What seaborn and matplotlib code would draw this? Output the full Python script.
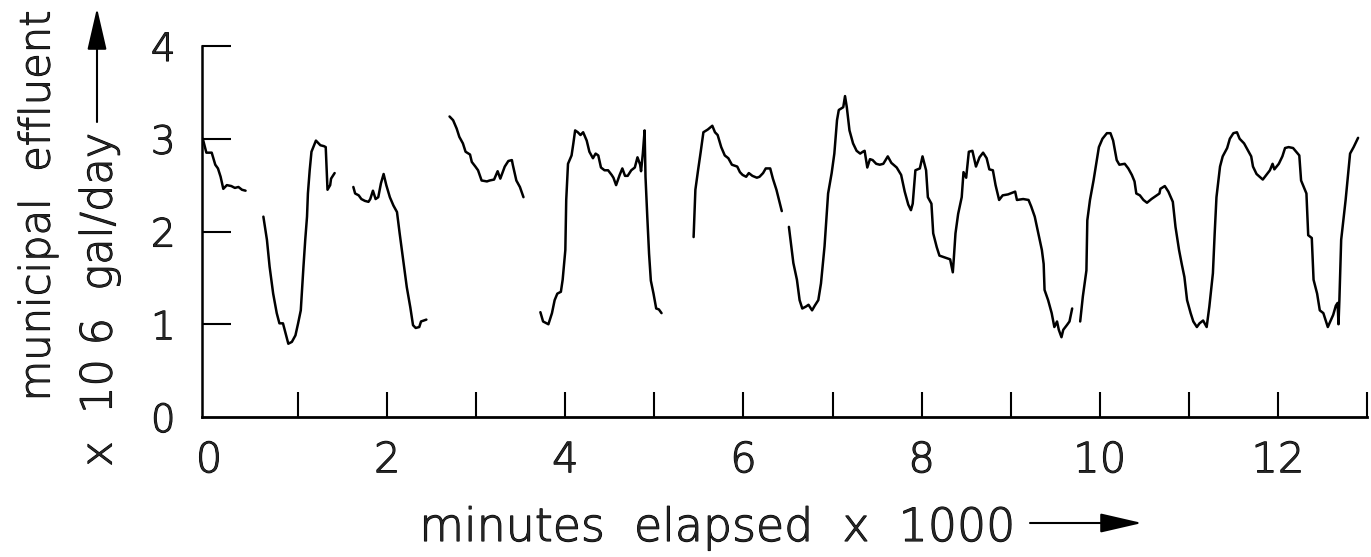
import numpy as np
import pandas as pd
import matplotlib
matplotlib.use("Agg")
import matplotlib.pyplot as plt
import matplotlib.patheffects as pe
from matplotlib.patches import FancyArrowPatch
import seaborn as sns

# ---- data (minutes elapsed x 1000, municipal effluent x 10^6 gal/day) ----
seg1_x = [-0.07, -0.03, 0.03, 0.07, 0.10, 0.13, 0.16, 0.20, 0.25, 0.29, 0.33, 0.37, 0.41]
seg1_y = [3.00, 2.85, 2.85, 2.72, 2.68, 2.59, 2.46, 2.50, 2.49, 2.47, 2.48, 2.45, 2.44]

seg2_x = [0.61, 0.65, 0.68, 0.72, 0.76, 0.79, 0.83, 0.86, 0.89, 0.93, 0.97, 1.00, 1.03, 1.06,
          1.08, 1.10, 1.11, 1.13, 1.15, 1.20, 1.25, 1.29, 1.31, 1.33, 1.36, 1.37, 1.41]
seg2_y = [2.16, 1.91, 1.62, 1.33, 1.12, 1.01, 1.01, 0.90, 0.79, 0.81, 0.88, 1.01, 1.15, 1.62,
          1.91, 2.16, 2.41, 2.66, 2.86, 2.98, 2.93, 2.92, 2.91, 2.45, 2.50, 2.57, 2.63]

seg3_x = [1.62, 1.64, 1.68, 1.71, 1.75, 1.79, 1.81, 1.84, 1.87, 1.90, 1.93, 1.96, 1.99, 2.03,
          2.07, 2.11, 2.14, 2.18, 2.22, 2.26, 2.29, 2.32, 2.36, 2.38, 2.44]
seg3_y = [2.48, 2.41, 2.39, 2.35, 2.33, 2.32, 2.35, 2.44, 2.35, 2.37, 2.52, 2.62, 2.50, 2.37,
          2.28, 2.21, 1.98, 1.69, 1.40, 1.18, 0.99, 0.96, 0.97, 1.03, 1.05]

seg4_x = [2.70, 2.74, 2.78, 2.81, 2.85, 2.88, 2.93, 2.95, 2.99, 3.02, 3.06, 3.12, 3.15, 3.20,
          3.24, 3.27, 3.32, 3.36, 3.40, 3.41, 3.45, 3.49, 3.53]
seg4_y = [3.24, 3.20, 3.11, 3.02, 2.95, 2.86, 2.83, 2.75, 2.70, 2.66, 2.55, 2.54, 2.55, 2.56,
          2.65, 2.57, 2.70, 2.76, 2.77, 2.72, 2.55, 2.48, 2.37]

seg5_x = [3.72, 3.75, 3.81, 3.85, 3.88, 3.91, 3.95, 3.97, 4.00, 4.01, 4.03, 4.07, 4.09, 4.11,
          4.14, 4.17, 4.20, 4.24, 4.27, 4.31, 4.34, 4.37, 4.40, 4.44, 4.48, 4.52, 4.54, 4.57,
          4.61, 4.64, 4.67, 4.70, 4.74, 4.78, 4.81, 4.84, 4.85, 4.87, 4.89, 4.90, 4.92, 4.94,
          4.96, 4.99, 5.02, 5.05, 5.08]
seg5_y = [1.13, 1.03, 1.00, 1.12, 1.26, 1.33, 1.35, 1.48, 1.80, 2.34, 2.73, 2.82, 2.95, 3.09,
          3.07, 3.04, 3.07, 2.98, 2.86, 2.79, 2.84, 2.82, 2.69, 2.66, 2.66, 2.61, 2.58, 2.50,
          2.61, 2.68, 2.60, 2.60, 2.66, 2.69, 2.80, 2.72, 2.65, 2.84, 3.09, 2.59, 2.16, 1.76,
          1.47, 1.33, 1.17, 1.16, 1.12]

seg6_x = [5.44, 5.46, 5.49, 5.52, 5.55, 5.60, 5.65, 5.68, 5.71, 5.75, 5.79, 5.83, 5.87, 5.93,
          5.96, 5.99, 6.03, 6.06, 6.10, 6.15, 6.18, 6.22, 6.25, 6.30, 6.33, 6.37, 6.43]
seg6_y = [1.94, 2.45, 2.66, 2.86, 3.07, 3.10, 3.14, 3.07, 3.04, 2.91, 2.82, 2.79, 2.72, 2.70,
          2.64, 2.61, 2.59, 2.63, 2.60, 2.58, 2.59, 2.63, 2.68, 2.68, 2.57, 2.45, 2.22]

seg7_x = [6.51, 6.56, 6.60, 6.63, 6.66, 6.70, 6.73, 6.75, 6.77, 6.80, 6.84, 6.87, 6.91, 6.95,
          6.99, 7.02, 7.05, 7.07, 7.12, 7.14, 7.16, 7.19, 7.23, 7.27, 7.31, 7.34, 7.36, 7.39,
          7.42, 7.45, 7.49, 7.53, 7.57, 7.62, 7.66, 7.72, 7.77, 7.81, 7.85, 7.88, 7.90, 7.93,
          7.98, 8.01,
          8.05, 8.07, 8.11, 8.13, 8.17, 8.20, 8.26, 8.32, 8.35, 8.36, 8.38, 8.41, 8.45, 8.47,
          8.50, 8.53, 8.57, 8.61, 8.65, 8.69, 8.73, 8.76, 8.80, 8.83, 8.87, 8.91, 8.97, 9.05,
          9.07, 9.14, 9.20, 9.23, 9.27, 9.31, 9.35, 9.37, 9.38, 9.42, 9.46, 9.49, 9.52, 9.54,
          9.57, 9.59, 9.63, 9.66, 9.69]
seg7_y = [2.05, 1.66, 1.48, 1.26, 1.17, 1.19, 1.21, 1.18, 1.15, 1.20, 1.26, 1.44, 1.84, 2.41,
          2.63, 2.84, 3.20, 3.31, 3.34, 3.46, 3.34, 3.09, 2.95, 2.87, 2.84, 2.86, 2.87, 2.69,
          2.78, 2.77, 2.73, 2.72, 2.73, 2.81, 2.74, 2.69, 2.61, 2.43, 2.29, 2.23, 2.30, 2.66,
          2.68, 2.81,
          2.66, 2.37, 2.30, 1.98, 1.83, 1.74, 1.72, 1.70, 1.56, 1.69, 1.98, 2.19, 2.37, 2.64,
          2.58, 2.86, 2.87, 2.70, 2.80, 2.85, 2.79, 2.67, 2.66, 2.50, 2.34, 2.39, 2.40, 2.43,
          2.34, 2.35, 2.34, 2.27, 2.16, 1.98, 1.80, 1.65, 1.37, 1.26, 1.12, 0.97, 1.03, 0.94,
          0.86, 0.94, 0.99, 1.03, 1.17]

seg8_x = [9.78, 9.81, 9.85, 9.86, 9.89, 9.93, 9.96, 9.99, 10.03, 10.08, 10.12, 10.15, 10.19,
          10.22, 10.28, 10.32, 10.36, 10.39, 10.41, 10.45,
          10.49, 10.53, 10.58, 10.64, 10.67, 10.68, 10.73, 10.77, 10.82, 10.85, 10.89, 10.92,
          10.95, 10.98, 11.02, 11.05, 11.09, 11.12, 11.16, 11.20, 11.23, 11.27, 11.29, 11.31,
          11.35, 11.38, 11.43, 11.46, 11.50, 11.54, 11.57, 11.62, 11.66, 11.70, 11.72, 11.76,
          11.83, 11.87, 11.91, 11.94, 11.96, 12.01, 12.05, 12.08, 12.12, 12.17, 12.24, 12.26,
          12.32, 12.34, 12.38, 12.40, 12.44, 12.47, 12.51, 12.54, 12.56, 12.62, 12.65, 12.67,
          12.68, 12.69, 12.71, 12.76, 12.81, 12.85, 12.90]
seg8_y = [1.03, 1.30, 1.58, 2.12, 2.34, 2.55, 2.73, 2.91, 3.00, 3.06, 3.06, 2.98, 2.77,
          2.72, 2.73, 2.68, 2.61, 2.54, 2.41, 2.39,
          2.34, 2.31, 2.35, 2.39, 2.41, 2.46, 2.49, 2.43, 2.32, 2.05, 1.80, 1.65,
          1.51, 1.26, 1.12, 1.03, 0.97, 1.01, 1.04, 0.97, 1.19, 1.55, 1.98, 2.37,
          2.70, 2.81, 2.90, 3.00, 3.06, 3.07, 3.00, 2.95, 2.88, 2.81, 2.70, 2.62,
          2.56, 2.61, 2.66, 2.73, 2.67, 2.73, 2.81, 2.90, 2.91, 2.90, 2.82, 2.55,
          2.41, 1.96, 1.93, 1.48, 1.33, 1.15, 1.12, 1.03, 0.97, 1.10, 1.20, 1.23,
          1.00, 1.26, 1.91, 2.34, 2.84, 2.91, 3.01]

x_major_ticks = [0, 2, 4, 6, 8, 10, 12]
x_major_labels = ["0", "2", "4", "6", "8", "10", "12"]
x_minor_ticks = [1, 3, 5, 7, 9, 11, 13]
y_ticks = [0, 1, 2, 3, 4]
y_labels = ["0", "1", "2", "3", "4"]

segments = [(seg1_x, seg1_y), (seg2_x, seg2_y), (seg3_x, seg3_y), (seg4_x, seg4_y),
            (seg5_x, seg5_y), (seg6_x, seg6_y), (seg7_x, seg7_y), (seg8_x, seg8_y)]

frames = [pd.DataFrame({"minutes": xs, "flow": ys, "segment": i})
          for i, (xs, ys) in enumerate(segments)]
df = pd.concat(frames, ignore_index=True)

sns.set_theme(style="white")
plt.rcParams["font.family"] = ["DejaVu Sans"]

W, H = 1371, 557
fig = plt.figure(figsize=(W / 100, H / 100), dpi=100)
ax = fig.add_axes([202 / W, 1 - 417 / H, (1367 - 202) / W, (417 - 46) / H])

sns.lineplot(data=df, x="minutes", y="flow", units="segment", estimator=None,
             sort=False, color="black", lw=1.8, ax=ax, legend=False)

ax.set_xlim(-0.079, 13.0)
ax.set_ylim(0, 4)
ax.set_xlabel("")
ax.set_ylabel("")
for s in ["top", "right"]:
    ax.spines[s].set_visible(False)
ax.spines["left"].set_linewidth(1.8)
ax.spines["bottom"].set_linewidth(2.0)
ax.spines["left"].set_color("black")
ax.spines["bottom"].set_color("black")

ax.set_xticks(x_major_ticks)
ax.set_xticklabels(x_major_labels)
ax.set_xticks(x_minor_ticks, minor=True)
ax.set_yticks(y_ticks)
ax.set_yticklabels(y_labels)
ax.tick_params(axis="x", which="both", direction="in", length=18, width=1.5,
               color="black", pad=16, labelsize=30, bottom=True)
ax.tick_params(axis="y", which="both", direction="in", length=21, width=1.5,
               color="black", pad=19, labelsize=28, left=True)

thicken = [pe.withStroke(linewidth=0.8, foreground="black")]
for lab in ax.get_xticklabels() + ax.get_yticklabels():
    lab.set_fontweight("light")
    lab.set_path_effects(thicken)
ax.xaxis.get_major_ticks()[0].tick1line.set_visible(False)
ax.yaxis.get_major_ticks()[0].tick1line.set_visible(False)

fig.text(37 / W, 1 - 206 / H, "municipal  effluent", rotation=90, ha="center",
         va="center", fontsize=30, fontweight="light", path_effects=thicken)
fig.text(99 / W, 1 - 300 / H, "x  10 6  gal/day", rotation=90, ha="center",
         va="center", fontsize=31, fontweight="light", path_effects=thicken)
fig.text(718 / W, 1 - 528 / H, "minutes  elapsed  x  1000", ha="center",
         va="center", fontsize=33, fontweight="light", path_effects=thicken)

arrow_style = "-|>,head_length=1.3,head_width=0.3"
fig.add_artist(FancyArrowPatch((97 / W, 1 - 122 / H), (97 / W, 1 - 8 / H),
                               transform=fig.transFigure, arrowstyle=arrow_style,
                               mutation_scale=20, lw=1.5, color="black",
                               shrinkA=0, shrinkB=0))
fig.add_artist(FancyArrowPatch((1030 / W, 1 - 523 / H), (1142 / W, 1 - 523 / H),
                               transform=fig.transFigure, arrowstyle=arrow_style,
                               mutation_scale=20, lw=1.5, color="black",
                               shrinkA=0, shrinkB=0))

fig.savefig("out.png", dpi=100)
